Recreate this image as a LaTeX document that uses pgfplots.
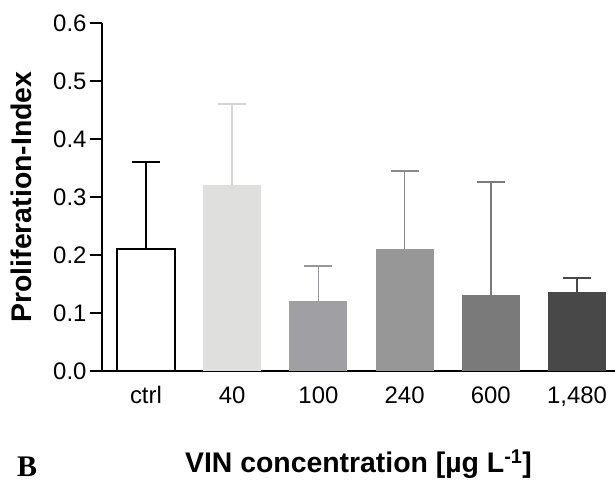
\documentclass[border=0pt]{standalone}
\usepackage{fontspec}
\setmainfont{Liberation Sans}
\newfontfamily\serifbold{Liberation Serif}
\usepackage{pgfplots}
\pgfplotsset{compat=1.18}

\definecolor{cA}{HTML}{FFFFFF}
\definecolor{cB}{HTML}{DFE0DE}
\definecolor{cBe}{HTML}{D4D4D4}
\definecolor{cC}{HTML}{A0A0A4}
\definecolor{cD}{HTML}{979797}
\definecolor{cE}{HTML}{7A7A7A}
\definecolor{cF}{HTML}{484848}

\begin{document}
\begin{tikzpicture}
\useasboundingbox (0,0) rectangle (615bp,485bp);
\begin{axis}[
    at={(102bp,114bp)}, anchor=south west,
    scale only axis,
    width=513bp, height=348bp,
    xmin=-0.51, xmax=5.44,
    ymin=0, ymax=0.6,
    axis lines*=left,
    axis line style={line width=1.5bp, -},
    ytick={0,0.1,...,0.6},
    xtick={0,1,2,3,4,5},
    xticklabels={ctrl,40,100,240,600,{1{,}480}},
    major tick length=12bp,
    tick align=outside,
    tick style={line width=1.5bp, black},
    x tick style={draw=none},
    /pgf/number format/.cd, fixed, fixed zerofill, precision=1, assume math mode=true,
    /pgfplots/.cd,
    yticklabel style={font=\fontsize{24}{28}\selectfont},
    xticklabel style={font=\fontsize{24}{28}\selectfont, anchor=base, yshift=-20bp},
    ylabel={Proliferation-Index},
    xlabel={VIN concentration [µg L\textsuperscript{-1}]},
    every axis y label/.style={at={(axis description cs:-0.158,0.5)}, rotate=90, anchor=center,
        font=\fontsize{28.5}{32}\selectfont\bfseries},
    every axis x label/.style={at={(axis description cs:0.5,-0.293)}, anchor=base,
        font=\fontsize{28.5}{32}\selectfont\bfseries},
    ybar,
    bar width=58bp,
    clip=false,
]
% bar value, error (plus)
\addplot[bar shift=0pt, fill=cA, draw=black, line width=1.5bp,
    error bars/.cd, y dir=plus, y explicit,
    error bar style={line width=1.5bp, black},
    error mark options={rotate=90, mark size=14bp, line width=1.5bp, black}]
    coordinates {(0,0.210) +- (0,0.150)};
\addplot[bar shift=0pt, fill=cB, draw=none,
    error bars/.cd, y dir=plus, y explicit,
    error bar style={line width=1.5bp, cBe},
    error mark options={rotate=90, mark size=14bp, line width=1.5bp, cBe}]
    coordinates {(1,0.321) +- (0,0.139)};
\addplot[bar shift=0pt, fill=cC, draw=none,
    error bars/.cd, y dir=plus, y explicit,
    error bar style={line width=1.5bp, cC!95!black},
    error mark options={rotate=90, mark size=14bp, line width=1.5bp, cC!95!black}]
    coordinates {(2,0.120) +- (0,0.061)};
\addplot[bar shift=0pt, fill=cD, draw=none,
    error bars/.cd, y dir=plus, y explicit,
    error bar style={line width=1.5bp, cD!92!black},
    error mark options={rotate=90, mark size=14bp, line width=1.5bp, cD!92!black}]
    coordinates {(3,0.211) +- (0,0.134)};
\addplot[bar shift=0pt, fill=cE, draw=none,
    error bars/.cd, y dir=plus, y explicit,
    error bar style={line width=1.5bp, cE},
    error mark options={rotate=90, mark size=14bp, line width=1.5bp, cE}]
    coordinates {(4,0.131) +- (0,0.195)};
\addplot[bar shift=0pt, fill=cF, draw=none,
    error bars/.cd, y dir=plus, y explicit,
    error bar style={line width=1.5bp, cF},
    error mark options={rotate=90, mark size=14bp, line width=1.5bp, cF}]
    coordinates {(5,0.137) +- (0,0.023)};
\end{axis}
\node[anchor=base west, inner sep=0pt, font=\serifbold\fontsize{30}{34}\selectfont\bfseries] at (17bp,9bp) {B};
\end{tikzpicture}
\end{document}
